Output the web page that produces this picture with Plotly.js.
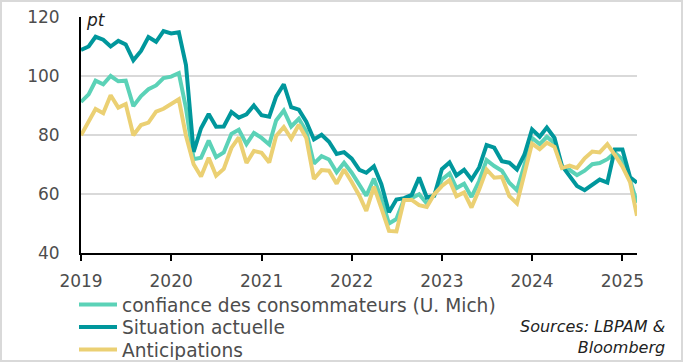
<!DOCTYPE html>
<html>
<head>
<meta charset="utf-8">
<script src="https://cdn.plot.ly/plotly-3.0.1.min.js"></script>
<style>
  html, body { margin: 0; padding: 0; background: #fff; }
  #wrap { position: relative; width: 683px; height: 362px; }
  #chart { width: 683px; height: 362px; }
  #frame { position: absolute; left: 0; top: 0; width: 683px; height: 362px; box-sizing: border-box; border: 2px solid #d9d9d9; pointer-events: none; }
</style>
</head>
<body>
<div id="wrap"><div id="chart"></div><div id="frame"></div></div>
<script>
// Monthly series, Jan 2019 -> Mar 2025
const startYear = 2019;
const nMonths = 75;
const months = [];
for (let i = 0; i < nMonths; i++) {
  const y = startYear + Math.floor(i / 12);
  const m = (i % 12) + 1;
  months.push(y + '-' + (m < 10 ? '0' + m : m) + '-01');
}

const seriesNames = ['confiance des consommateurs (U. Mich)', 'Situation actuelle', 'Anticipations'];

const confiance = [91.2,93.8,98.4,97.2,100.0,98.2,98.4,89.8,93.2,95.5,96.8,99.3,
  99.8,101.0,89.1,71.8,72.3,78.1,72.5,74.1,80.4,81.8,76.9,80.7,
  79.0,76.8,84.9,88.3,82.9,85.5,81.2,70.3,72.8,71.7,67.4,70.6,
  67.2,62.8,59.4,65.2,58.4,50.0,51.5,58.2,58.6,59.9,56.8,59.7,
  64.9,67.0,62.0,63.5,59.0,64.4,71.5,69.5,67.9,63.8,61.3,69.7,
  79.0,76.9,79.4,77.2,69.1,68.2,66.4,67.9,70.1,70.5,71.8,74.0,
  71.7,64.7,57.0];

const situation = [108.8,110.0,113.3,112.3,110.0,111.9,110.7,105.3,108.5,113.2,111.6,115.2,
  114.4,114.8,103.7,74.3,82.3,87.1,82.8,82.9,87.8,85.9,87.0,90.0,
  86.7,86.2,93.0,97.2,89.4,88.6,84.5,78.5,80.1,77.7,73.6,74.2,
  72.0,68.2,67.2,69.4,63.3,53.8,58.1,58.6,59.7,65.6,58.8,59.4,
  68.4,70.7,66.3,68.2,64.9,69.0,76.6,75.7,71.1,70.6,68.3,73.3,
  81.9,79.4,82.5,79.0,69.6,65.9,62.7,61.3,63.3,64.9,63.9,75.1,
  75.1,65.7,63.8];

const anticipations = [79.9,84.4,88.8,87.4,93.5,89.3,90.5,79.9,83.4,84.2,87.9,88.9,
  90.5,92.1,79.7,70.1,65.9,72.3,66.2,68.5,75.6,79.2,70.5,74.6,
  74.0,70.7,79.7,82.7,78.8,83.5,79.0,65.1,68.1,67.9,63.5,68.3,
  64.1,59.4,54.3,62.5,55.2,47.5,47.3,58.0,58.0,56.2,55.6,59.9,
  62.7,64.7,59.2,60.5,55.4,61.5,68.3,65.5,65.8,59.3,56.8,67.4,
  77.1,75.2,77.4,76.0,68.8,69.6,68.8,72.1,74.4,74.1,76.9,73.3,
  69.3,64.0,52.6];

const colors = ['#5bd2b7', '#00979c', '#ebd073'];
const values = [confiance, situation, anticipations];
const legendIds = ['legend', 'legend2', 'legend3'];
// legend row centres (container fraction, from bottom)
const legendRowY = [1 - 305 / 362, 1 - 327.5 / 362, 1 - 350 / 362];

const traces = values.map((v, i) => ({
  type: 'scatter',
  mode: 'lines',
  x: months,
  y: v,
  name: seriesNames[i],
  legend: legendIds[i],
  line: { color: colors[i], width: 4 },
  hoverinfo: 'skip'
}));

const legendFont = { family: 'DejaVu Sans', size: 18.6, color: '#4d4d4d' };
function legendBox(i) {
  return {
    xref: 'container', yref: 'container',
    x: 74 / 683, xanchor: 'left',
    y: legendRowY[i], yanchor: 'middle',
    font: legendFont,
    bgcolor: 'rgba(0,0,0,0)',
    itemwidth: 38
  };
}

const layout = {
  width: 683,
  height: 362,
  margin: { l: 81, r: 46, t: 17, b: 109, autoexpand: false },
  paper_bgcolor: '#ffffff',
  plot_bgcolor: '#ffffff',
  font: { family: 'DejaVu Sans', size: 17, color: '#4d4d4d' },
  showlegend: true,
  legend: legendBox(0),
  legend2: legendBox(1),
  legend3: legendBox(2),
  xaxis: {
    type: 'date',
    range: ['2019-01-01', '2025-03-01'],
    tick0: '2019-01-01',
    dtick: 'M12',
    tickformat: '%Y',
    ticks: 'outside',
    ticklen: 6,
    tickwidth: 2,
    tickcolor: '#000',
    ticklabelstandoff: 6,
    tickangle: 0,
    showline: true,
    linecolor: '#000',
    linewidth: 2,
    showgrid: false,
    zeroline: false,
    fixedrange: true
  },
  yaxis: {
    range: [40, 120],
    tick0: 40,
    dtick: 20,
    showgrid: true,
    gridcolor: '#d9d9d9',
    gridwidth: 2,
    showline: true,
    linecolor: '#000',
    linewidth: 2,
    ticks: 'outside',
    ticklen: 16,
    tickcolor: 'rgba(0,0,0,0)',
    zeroline: false,
    fixedrange: true
  },
  annotations: [
    {
      text: 'pt', xref: 'paper', yref: 'paper', x: 0, y: 1,
      xanchor: 'left', yanchor: 'middle', xshift: 3, yshift: -3,
      showarrow: false,
      font: { family: 'DejaVu Sans', size: 17, color: '#222', style: 'italic' }
    },
    {
      text: 'Sources: LBPAM &amp;<br>Bloomberg', xref: 'paper', yref: 'paper',
      x: 1.054, y: -0.356, xanchor: 'right', yanchor: 'middle', align: 'right',
      showarrow: false,
      font: { family: 'DejaVu Sans', size: 16, color: '#222', style: 'italic' }
    }
  ]
};

Plotly.newPlot('chart', traces, layout, { displayModeBar: false, staticPlot: true });
</script>
</body>
</html>
